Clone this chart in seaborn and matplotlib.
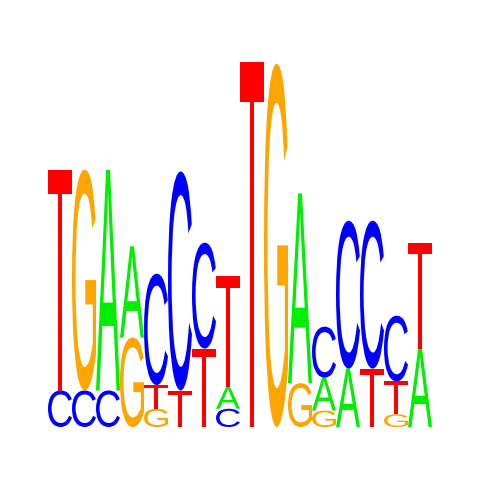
import matplotlib
matplotlib.use('Agg')
import matplotlib.pyplot as plt
import numpy as np
import seaborn as sns
from matplotlib.textpath import TextPath
from matplotlib.patches import PathPatch
from matplotlib.font_manager import FontProperties
from matplotlib.transforms import Affine2D

# information content (bits) of each base at each of the 16 positions
bases = ['A', 'C', 'G', 'T']
height_A = [0.00, 0.00, 1.21, 0.50, 0.00, 0.00, 0.00, 0.12, 0.00, 0.00, 1.04, 0.18, 0.32, 0.00, 0.00, 0.43]
height_C = [0.20, 0.20, 0.20, 0.00, 0.61, 1.20, 0.58, 0.10, 0.00, 0.00, 0.00, 0.28, 0.81, 0.81, 0.36, 0.00]
height_G = [0.00, 1.21, 0.00, 0.49, 0.10, 0.00, 0.00, 0.00, 0.00, 1.99, 0.24, 0.09, 0.00, 0.00, 0.07, 0.00]
height_T = [1.21, 0.00, 0.00, 0.00, 0.13, 0.20, 0.43, 0.61, 2.00, 0.00, 0.00, 0.00, 0.00, 0.32, 0.18, 0.58]

colors = {'A': '#00ee00', 'C': '#0000ff', 'G': '#ffa500', 'T': '#ff0000'}

sns.set_theme(style='white')
font = FontProperties(family='Liberation Sans', weight='normal')

heights = {'A': height_A, 'C': height_C, 'G': height_G, 'T': height_T}
npos = len(height_A)

fig = plt.figure(figsize=(4.8, 4.8), dpi=100)
ax = fig.add_axes([48 / 480, 53 / 480, 384 / 480, 365 / 480])


def draw_letter(ax, letter, x, y, w, h):
    tp = TextPath((0, 0), letter, size=1, prop=font)
    bb = tp.get_extents()
    tr = Affine2D().translate(-bb.x0, -bb.y0).scale(w / bb.width, h / bb.height).translate(x, y)
    ax.add_patch(PathPatch(tr.transform_path(tp), facecolor=colors[letter],
                           edgecolor='none', lw=0))


for i in range(npos):
    col = sorted([(heights[b][i], b) for b in bases])
    y0 = 0.0
    for h, b in col:
        if h <= 0:
            continue
        draw_letter(ax, b, i, y0, 1.0, h)
        y0 += h

ax.set_xlim(0, npos)
ax.set_ylim(0, 2)
ax.axis('off')
sns.despine(left=True, bottom=True)

fig.savefig('out.png', dpi=100)
